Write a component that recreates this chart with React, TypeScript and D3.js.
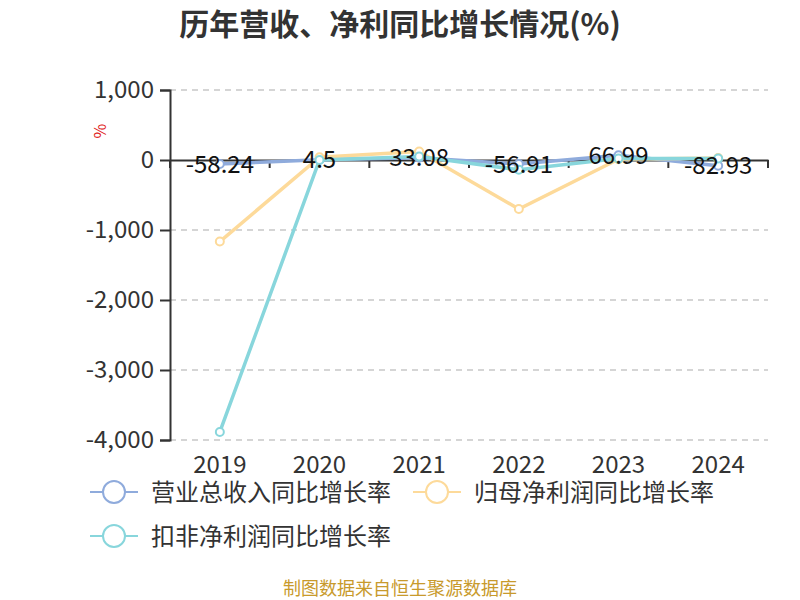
import React, { useEffect, useRef } from 'react';
import * as d3 from 'd3';

const years = ['2019', '2020', '2021', '2022', '2023', '2024'];
const revenueGrowth = [-58.24, 4.5, 33.08, -56.91, 66.99, -82.93];
const netProfitGrowth = [-1165, 40, 120, -700, 12, 28];
const deductedProfitGrowth = [-3885, 0, 50, -140, 20, 22];
const yTicks = [1000, 0, -1000, -2000, -3000, -4000];

const seriesNames = ['营业总收入同比增长率', '归母净利润同比增长率', '扣非净利润同比增长率'];
const seriesColors = ['#8fabdc', '#fdda9a', '#88d6dc'];

const width = 800;
const height = 600;
const margin = { top: 90, right: 32, bottom: 160, left: 170 };

const App = () => {
  const ref = useRef<SVGSVGElement | null>(null);

  useEffect(() => {
    document.body.style.margin = '0';
    if (!ref.current) return;
    const svg = d3.select(ref.current);
    svg.selectAll('*').remove();

    const font = '"Noto Sans CJK SC", "Noto Sans", sans-serif';
    const innerW = width - margin.left - margin.right;
    const innerH = height - margin.top - margin.bottom;

    const x = d3.scaleBand().domain(years).range([0, innerW]);
    const y = d3.scaleLinear().domain([-4000, 1000]).range([innerH, 0]);

    // title
    svg
      .append('text')
      .attr('x', width / 2)
      .attr('y', 35)
      .attr('text-anchor', 'middle')
      .attr('font-family', font)
      .attr('font-size', 30)
      .attr('font-weight', 'bold')
      .attr('fill', '#333')
      .text('历年营收、净利同比增长情况(%)');

    // unit
    svg
      .append('text')
      .attr('transform', `translate(106,131) rotate(-90)`)
      .attr('text-anchor', 'middle')
      .attr('font-family', font)
      .attr('font-size', 16)
      .attr('fill', '#e02020')
      .text('%');

    const g = svg.append('g').attr('transform', `translate(${margin.left},${margin.top})`);

    // grid lines
    g.selectAll('.grid')
      .data(yTicks.filter((t) => t !== 0))
      .enter()
      .append('line')
      .attr('x1', 0)
      .attr('x2', innerW)
      .attr('y1', (d) => y(d))
      .attr('y2', (d) => y(d))
      .attr('stroke', '#c8c8c8')
      .attr('stroke-width', 1.5)
      .attr('stroke-dasharray', '6,5');

    // y axis
    const yAxis = g
      .append('g')
      .call(
        d3
          .axisLeft(y)
          .tickValues(yTicks)
          .tickSize(10)
          .tickPadding(6)
          .tickFormat((d) => d3.format(',')(d as number).replace('−', '-'))
      );
    yAxis.select('.domain').attr('stroke', '#333').attr('stroke-width', 2);
    yAxis.selectAll('.tick line').attr('stroke', '#333').attr('stroke-width', 2);
    yAxis
      .selectAll('text')
      .attr('font-family', font)
      .attr('font-size', 24)
      .attr('fill', '#333');

    // x axis at zero
    const xAxis = g
      .append('g')
      .attr('transform', `translate(0,${y(0)})`)
      .call(d3.axisBottom(x).tickValues([]).tickSizeOuter(0));
    xAxis.select('.domain').attr('stroke', '#333').attr('stroke-width', 2);
    g.selectAll('.xtick')
      .data(d3.range(years.length + 1))
      .enter()
      .append('line')
      .attr('x1', (i) => i * x.bandwidth())
      .attr('x2', (i) => i * x.bandwidth())
      .attr('y1', y(0))
      .attr('y2', y(0) + 8)
      .attr('stroke', '#333')
      .attr('stroke-width', 2);

    // x labels at bottom
    g.selectAll('.xlabel')
      .data(years)
      .enter()
      .append('text')
      .attr('x', (d) => (x(d) ?? 0) + x.bandwidth() / 2)
      .attr('y', innerH + 33)
      .attr('text-anchor', 'middle')
      .attr('font-family', font)
      .attr('font-size', 24)
      .attr('fill', '#333')
      .text((d) => d);

    const allSeries = [revenueGrowth, netProfitGrowth, deductedProfitGrowth];
    const line = d3
      .line<number>()
      .x((_, i) => (x(years[i]) ?? 0) + x.bandwidth() / 2)
      .y((d) => y(d));

    allSeries.forEach((s, k) => {
      g.append('path')
        .datum(s)
        .attr('d', line)
        .attr('fill', 'none')
        .attr('stroke', seriesColors[k])
        .attr('stroke-width', 3.5);
    });
    allSeries.forEach((s, k) => {
      g.selectAll(`.pt${k}`)
        .data(s)
        .enter()
        .append('circle')
        .attr('cx', (_, i) => (x(years[i]) ?? 0) + x.bandwidth() / 2)
        .attr('cy', (d) => y(d))
        .attr('r', 4)
        .attr('fill', '#fff')
        .attr('stroke', seriesColors[k])
        .attr('stroke-width', 2);
    });

    // data labels for revenue
    g.selectAll('.lbl')
      .data(revenueGrowth)
      .enter()
      .append('text')
      .attr('x', (_, i) => (x(years[i]) ?? 0) + x.bandwidth() / 2)
      .attr('y', (d) => y(d))
      .attr('dy', '0.36em')
      .attr('text-anchor', 'middle')
      .attr('font-family', font)
      .attr('font-size', 24)
      .attr('fill', '#111')
      .text((d) => String(d));

    // legend
    const legendPos = [
      [90, 492],
      [413, 492],
      [90, 536],
    ];
    seriesNames.forEach((name, k) => {
      const [lx, ly] = legendPos[k];
      const lg = svg.append('g').attr('transform', `translate(${lx},${ly})`);
      lg.append('line')
        .attr('x1', 0)
        .attr('x2', 48)
        .attr('y1', 0)
        .attr('y2', 0)
        .attr('stroke', seriesColors[k])
        .attr('stroke-width', 2);
      lg.append('circle')
        .attr('cx', 24)
        .attr('cy', 0)
        .attr('r', 11)
        .attr('fill', '#fff')
        .attr('stroke', seriesColors[k])
        .attr('stroke-width', 2);
      lg.append('text')
        .attr('x', 61)
        .attr('y', 0)
        .attr('dy', '0.36em')
        .attr('font-family', font)
        .attr('font-size', 24)
        .attr('fill', '#333')
        .text(name);
    });

    // source
    svg
      .append('text')
      .attr('x', width / 2)
      .attr('y', 595)
      .attr('text-anchor', 'middle')
      .attr('font-family', font)
      .attr('font-size', 18)
      .attr('fill', '#c89a2c')
      .text('制图数据来自恒生聚源数据库');
  }, []);

  return <svg ref={ref} width={width} height={height} style={{ display: 'block' }} />;
};

export default App;
